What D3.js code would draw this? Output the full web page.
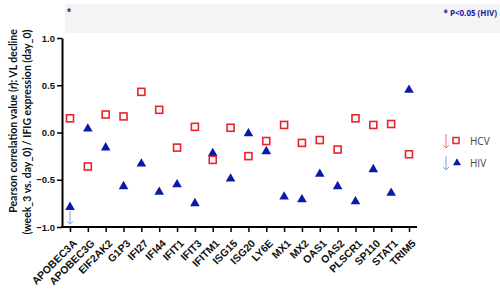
<!DOCTYPE html>
<html>
<head>
<meta charset="utf-8">
<script src="https://cdn.jsdelivr.net/npm/d3@7"></script>
<style>
  body { margin: 0; background: #fff; }
  svg { display: block; }
</style>
</head>
<body>
<div id="root"></div>
<script>
var genes = ['APOBEC3A', 'APOBEC3G', 'EIF2AK2', 'G1P3', 'IFI27', 'IFI44', 'IFIT1', 'IFIT3', 'IFITM1', 'ISG15',
    'ISG20', 'LY6E', 'MX1', 'MX2', 'OAS1', 'OAS2', 'PLSCR1', 'SP110', 'STAT1', 'TRIM5']
var hcv = [0.15, -0.36, 0.19, 0.17, 0.43, 0.24, -0.16, 0.06, -0.29, 0.05,
    -0.25, -0.09, 0.08, -0.11, -0.08, -0.18, 0.15, 0.08, 0.09, -0.23]
var hiv = [-0.79, 0.04, -0.16, -0.57, -0.33, -0.63, -0.55, -0.75, -0.22, -0.49,
    -0.01, -0.20, -0.68, -0.71, -0.44, -0.57, -0.73, -0.39, -0.64, 0.45]
var yTicks = [-1.0, -0.5, 0.0, 0.5, 1.0]

var width = 500, height = 296
var svg = d3.select('#root').append('svg')
    .attr('width', width)
    .attr('height', height)

// 坐标区
var plotL = 62, plotR = 417, plotT = 38, plotB = 227

var x = d3.scalePoint().domain(genes).range([70, 409])
var y = d3.scaleLinear().domain([-1, 1]).range([plotB, plotT])

// 顶部灰色条
svg.append('rect')
    .attr('x', 65).attr('y', 4)
    .attr('width', 435).attr('height', 29)
    .attr('fill', '#f4f4f4')
svg.append('text')
    .attr('x', 67).attr('y', 16)
    .attr('fill', '#1a1aa6')
    .style('font', 'bold 10px "Liberation Sans", Arial, sans-serif')
    .text('*')
svg.append('text')
    .attr('x', 497).attr('y', 16)
    .attr('text-anchor', 'end')
    .attr('fill', '#1a1aa6')
    .style('font', 'bold 8px "Open Sans", sans-serif')
    .text('* P<0.05 (HIV)')

// Y轴
var yAxis = svg.append('g')
    .attr('transform', 'translate(' + plotL + ',0)')
    .call(d3.axisLeft(y).tickValues(yTicks).tickFormat(d3.format('.1f')).tickSize(5).tickSizeOuter(0))
yAxis.select('.domain').attr('stroke', '#000').attr('stroke-width', 2)
yAxis.selectAll('.tick line').attr('stroke', '#000').attr('stroke-width', 1.5)
yAxis.selectAll('.tick text')
    .attr('x', -7)
    .attr('fill', '#111')
    .style('font', 'bold 9.5px "Liberation Sans", Arial, sans-serif')

// X轴
var xAxis = svg.append('g')
    .attr('transform', 'translate(0,' + plotB + ')')
xAxis.append('line')
    .attr('x1', plotL - 1).attr('x2', plotR)
    .attr('y1', 0).attr('y2', 0)
    .attr('stroke', '#000').attr('stroke-width', 2)
xAxis.call(d3.axisBottom(x).tickSize(5).tickSizeOuter(0))
xAxis.select('.domain').remove()
xAxis.selectAll('.tick line').attr('stroke', '#000').attr('stroke-width', 1.5)
xAxis.selectAll('.tick text')
    .attr('y', 0).attr('dy', 0)
    .attr('transform', 'translate(7,17) rotate(-45)')
    .attr('text-anchor', 'end')
    .attr('fill', '#111')
    .style('font', 'bold 10.5px "Liberation Sans", Arial, sans-serif')

// Y轴标题
var yTitle = svg.append('text')
    .attr('transform', 'translate(17,121) rotate(-90)')
    .attr('text-anchor', 'middle')
    .attr('fill', '#111')
    .style('font', 'bold 10.5px Lato, "Open Sans", sans-serif')
yTitle.append('tspan').text('Pearson correlation value (')
yTitle.append('tspan').style('font-style', 'italic').text('r')
yTitle.append('tspan').text('): VL decline')
svg.append('text')
    .attr('transform', 'translate(31,132) rotate(-90)')
    .attr('text-anchor', 'middle')
    .attr('fill', '#111')
    .style('font', 'bold 10.5px Lato, "Open Sans", sans-serif')
    .text('(week_3 vs. day_0) / IFIG expression (day_0)')

// 数据点
var tri = d3.symbol().type(d3.symbolTriangle).size(40)
svg.append('g').selectAll('path')
    .data(hiv)
    .enter()
    .append('path')
    .attr('d', tri)
    .attr('transform', function (d, i) { return 'translate(' + x(genes[i]) + ',' + y(d) + ')' })
    .attr('fill', '#0a1aa8')
svg.append('g').selectAll('rect')
    .data(hcv)
    .enter()
    .append('rect')
    .attr('x', function (d, i) { return x(genes[i]) - 3.5 })
    .attr('y', function (d) { return y(d) - 3.5 })
    .attr('width', 7).attr('height', 7)
    .attr('fill', '#fff')
    .attr('stroke', '#e8242a')
    .attr('stroke-width', 1.6)

// 向下箭头
function arrow(g, cx, y0, y1, color) {
    g.append('line')
        .attr('x1', cx).attr('x2', cx)
        .attr('y1', y0).attr('y2', y1)
        .attr('stroke', color).attr('stroke-width', 1)
    g.append('path')
        .attr('d', 'M' + (cx - 3) + ',' + (y1 - 3) + 'L' + cx + ',' + y1 + 'L' + (cx + 3) + ',' + (y1 - 3))
        .attr('fill', 'none').attr('stroke', color).attr('stroke-width', 1)
}
arrow(svg, x(genes[0]), y(hiv[0]) + 4, y(hiv[0]) + 17, '#7aa3d0')

// 图例
var legend = svg.append('g')
arrow(legend, 446, 134, 148, '#f07070')
legend.append('rect')
    .attr('x', 453).attr('y', 137.5).attr('width', 6).attr('height', 6)
    .attr('fill', '#fff').attr('stroke', '#e8242a').attr('stroke-width', 1.5)
legend.append('text')
    .attr('x', 470).attr('y', 145)
    .attr('fill', '#444')
    .style('font', '10px "Open Sans", sans-serif')
    .text('HCV')
arrow(legend, 446, 156, 170, '#7aa3d0')
legend.append('path')
    .attr('d', d3.symbol().type(d3.symbolTriangle).size(28))
    .attr('transform', 'translate(457,163)')
    .attr('fill', '#0a1aa8')
legend.append('text')
    .attr('x', 470).attr('y', 167)
    .attr('fill', '#444')
    .style('font', '10px "Open Sans", sans-serif')
    .text('HIV')
</script>
</body>
</html>
